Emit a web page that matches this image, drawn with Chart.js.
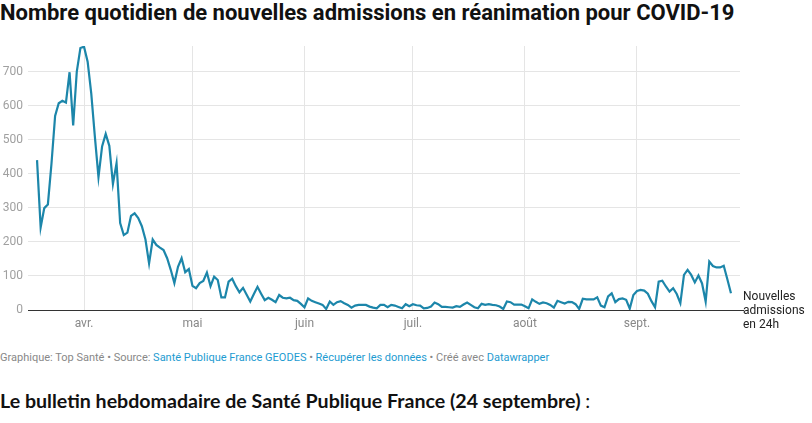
<!DOCTYPE html>
<html lang="fr">
<head>
<meta charset="utf-8">
<script src="https://cdn.jsdelivr.net/npm/chart.js@4.4.1/dist/chart.umd.min.js"></script>
<style>
    body { margin: 0; background: #fff; font-family: Roboto, sans-serif; width: 812px; height: 423px; overflow: hidden; position: relative; }
    #titre { position: absolute; left: 0; top: 0; font-size: 22px; font-weight: 700; color: #111; white-space: nowrap; letter-spacing: 0; }
    #zone { position: absolute; left: 0; top: 0; width: 812px; height: 340px; }
    #etiquette { position: absolute; left: 743px; top: 289px; font-size: 12px; line-height: 14px; color: #222; }
    #source { position: absolute; left: 0; top: 351px; font-size: 11px; color: #888; white-space: nowrap; }
    #source a { color: #1d9bd1; text-decoration: none; }
    #bulletin { position: absolute; left: 0; top: 389px; font-family: Lato, sans-serif; font-size: 19.6px; font-weight: 700; color: #111; white-space: nowrap; }
    #bulletin span { font-weight: 400; }
</style>
</head>
<body>
<div id="titre">Nombre quotidien de nouvelles admissions en réanimation pour COVID-19</div>
<div id="zone"><canvas id="chartReanimation"></canvas></div>
<div id="etiquette">Nouvelles<br>admissions<br>en 24h</div>
<div id="source">Graphique: Top Santé • Source: <a>Santé Publique France GEODES</a> • <a>Récupérer les données</a> • Créé avec <a>Datawrapper</a></div>
<div id="bulletin">Le bulletin hebdomadaire de Santé Publique France (24 septembre) <span>:</span></div>

<script>
// Données : un point par jour à partir du 19 mars 2020
const debut = '2020-03-19';
const admissions = [
    440, 242, 299, 310, 430, 570, 607, 614, 609, 698,
    542, 700, 769, 773, 729, 636, 509, 390, 480, 517,
    482, 370, 431, 255, 220, 227, 276, 284, 270, 246,
    207, 137, 207, 191, 183, 176, 152, 118, 79, 127,
    152, 111, 120, 71, 64, 79, 85, 110, 70, 98,
    88, 37, 37, 83, 92, 70, 52, 65, 45, 25,
    47, 68, 48, 29, 36, 30, 23, 44, 36, 34,
    36, 29, 27, 18, 8, 34, 27, 23, 19, 15,
    3, 25, 15, 23, 26, 20, 15, 7, 13, 15,
    15, 15, 10, 7, 5, 15, 15, 8, 15, 13,
    9, 5, 17, 11, 17, 14, 13, 5, 6, 10,
    22, 17, 9, 9, 8, 7, 11, 9, 16, 22,
    15, 8, 5, 18, 15, 17, 15, 14, 10, 3,
    25, 23, 16, 16, 16, 11, 5, 31, 24, 18,
    22, 20, 15, 7, 27, 23, 19, 24, 23, 17,
    3, 33, 31, 31, 31, 37, 13, 8, 40, 49,
    23, 32, 34, 30, 4, 44, 56, 59, 57, 48,
    26, 8, 83, 86, 69, 54, 64, 47, 20, 103,
    118, 103, 81, 101, 78, 25, 142, 129, 125, 125,
    130, 90, 49
];

// Premier jour de chaque mois (en jours depuis le début)
const moisJours = [13, 43, 74, 104, 135, 166];
const moisLabels = ['avr.', 'mai', 'juin', 'juil.', 'août', 'sept.'];
const yTicks = [0, 100, 200, 300, 400, 500, 600, 700];

const canvas = document.getElementById('chartReanimation');

// Ligne de base noire qui rejoint l'étiquette
const ligneBase = {
    id: 'ligneBase',
    afterDatasetsDraw(chart) {
        const ctx = chart.ctx;
        const y = Math.round(chart.scales.y.getPixelForValue(0)) + 0.5;
        ctx.save();
        ctx.strokeStyle = '#333';
        ctx.lineWidth = 1.2;
        ctx.beginPath();
        ctx.moveTo(chart.chartArea.left, y);
        ctx.lineTo(744, y);
        ctx.stroke();
        ctx.restore();
    }
};

new Chart(canvas, {
    type: 'line',
    data: {
        datasets: [{
            label: 'Nouvelles admissions en 24h',
            data: admissions.map((v, i) => ({ x: i, y: v })),
            borderColor: '#1c86aa',
            borderWidth: 2.2,
            pointRadius: 0,
            tension: 0,
            fill: false
        }]
    },
    options: {
        responsive: true,
        maintainAspectRatio: false,
        animation: false,
        layout: {
            padding: { top: 46, right: 72, left: 0, bottom: 0 }
        },
        plugins: {
            legend: { display: false },
            tooltip: { enabled: false }
        },
        scales: {
            x: {
                type: 'linear',
                min: -2.5,
                max: 194.5,
                afterBuildTicks: s => { s.ticks = moisJours.map(v => ({ value: v })); },
                afterFit: s => { s.height = 30; },
                grid: { color: '#e5e5e5', drawTicks: false },
                border: { display: false },
                ticks: {
                    padding: 7,
                    color: '#888',
                    font: { family: 'Roboto', size: 12 },
                    maxRotation: 0,
                    callback: v => moisLabels[moisJours.indexOf(v)]
                }
            },
            y: {
                min: 0,
                max: 775,
                afterBuildTicks: s => { s.ticks = yTicks.map(v => ({ value: v })); },
                afterFit: s => { s.width = 28; },
                grid: { color: '#e5e5e5', drawTicks: false },
                border: { display: false },
                ticks: {
                    padding: 5,
                    color: '#a0a0a0',
                    font: { family: 'Roboto', size: 12 }
                }
            }
        }
    },
    plugins: [ligneBase]
});
</script>
</body>
</html>
